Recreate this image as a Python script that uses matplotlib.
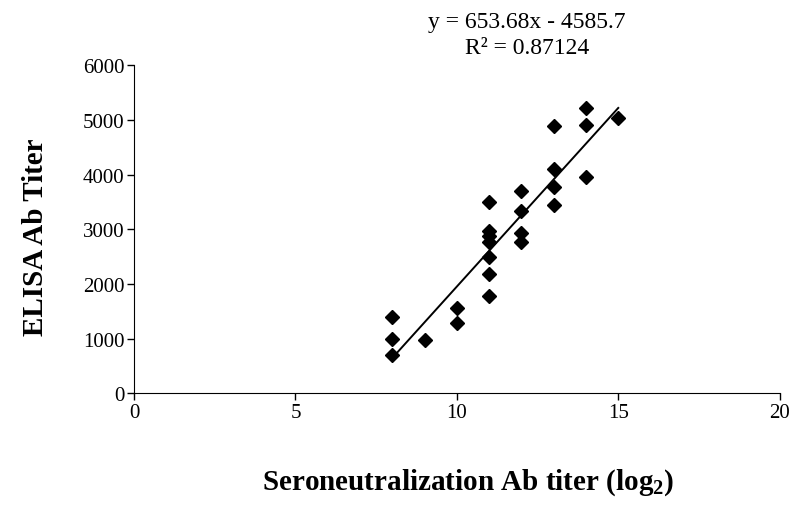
import numpy as np
import matplotlib.pyplot as plt

plt.rcParams['font.family'] = 'Liberation Serif'
plt.rcParams['mathtext.fontset'] = 'custom'
plt.rcParams['mathtext.rm'] = 'Liberation Serif'
plt.rcParams['mathtext.bf'] = 'Liberation Serif:bold'

# Data
sn_titer = [8, 8, 8, 9, 10, 10,
            11, 11, 11, 11, 11, 11, 11,
            12, 12, 12, 12,
            13, 13, 13, 13,
            14, 14, 14, 15]
elisa_titer = [1400, 990, 700, 970, 1560, 1290,
               3490, 2960, 2870, 2760, 2490, 2180, 1780,
               3700, 3340, 2940, 2760,
               4880, 4110, 3780, 3450,
               5220, 4900, 3960, 5030]

# trendline from the printed equation
slope = 653.68
intercept = -4585.7
r2 = 0.87124

fig = plt.figure(figsize=(7.98, 5.06), dpi=100)
ax = fig.add_axes([0.168, 0.221, 0.809, 0.648])

ax.plot(sn_titer, elisa_titer, 'kD', markersize=7.5, linestyle='none')

xfit = np.array([min(sn_titer), max(sn_titer)])
ax.plot(xfit, slope * xfit + intercept, 'k-', linewidth=1.4)

ax.set_xlim(0, 20)
ax.set_ylim(0, 6000)
ax.set_xticks([0, 5, 10, 15, 20])
ax.set_yticks(range(0, 7000, 1000))
ax.tick_params(direction='out', length=5, labelsize=15, width=1, pad=2)
ax.spines['top'].set_visible(False)
ax.spines['right'].set_visible(False)

ax.set_xlabel(r'Seroneutralization Ab titer (log$_{\mathbf{2}}$)',
              fontsize=21, fontweight='bold', va='center')
ax.xaxis.set_label_coords(0.517, -0.271)
ax.set_ylabel('ELISA Ab Titer', fontsize=21, fontweight='bold', va='center')
ax.yaxis.set_label_coords(-0.153, 0.479)

fig.text(0.66, 0.955, 'y = %.2fx - %.1f' % (slope, -intercept),
         ha='center', va='center', fontsize=17)
fig.text(0.66, 0.905, 'R² = %.5f' % r2, ha='center', va='center', fontsize=17)

fig.savefig('out.png', dpi=100)
